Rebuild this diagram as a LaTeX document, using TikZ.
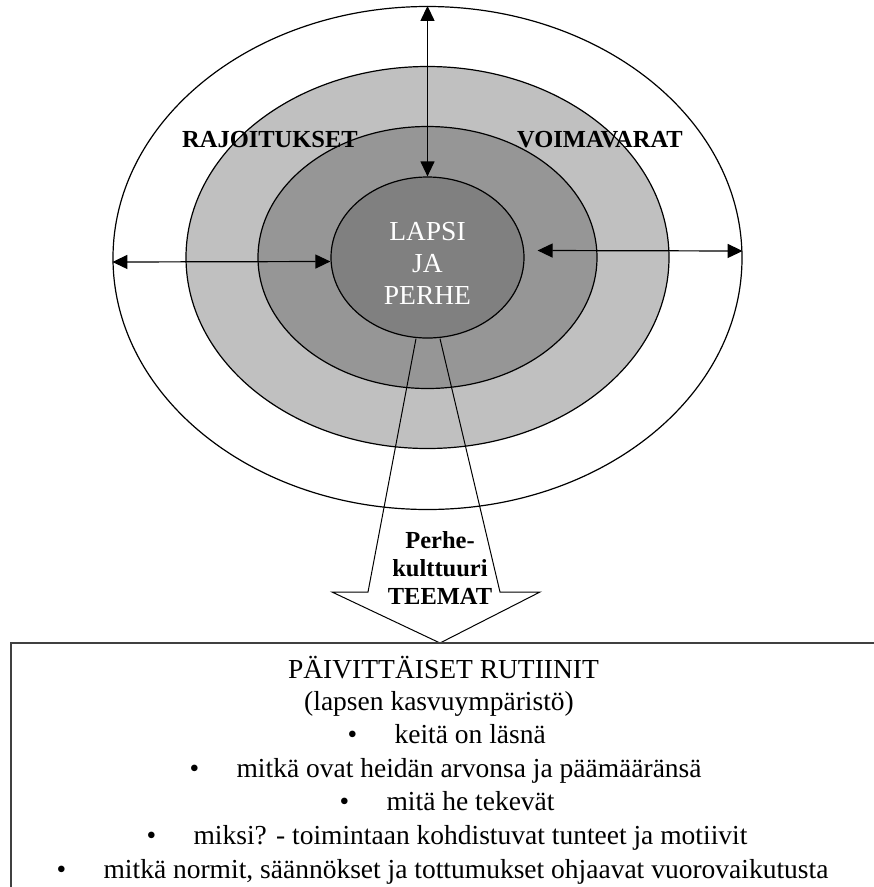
\documentclass[tikz,border=0pt]{standalone}
\usepackage{fontspec}
\setmainfont{Liberation Serif}
\usepackage{xcolor}
\usepackage{tikz}
\usetikzlibrary{shapes.geometric, arrows.meta}
\definecolor{RingLight}{HTML}{C0C0C0}
\definecolor{RingMid}{HTML}{969696}
\definecolor{RingCore}{HTML}{808080}
\definecolor{BoxEdge}{HTML}{404040}

\begin{document}
\begin{tikzpicture}[x=1pt, y=-1pt, line width=1.2pt,
    zone/.style={ellipse, draw=black, inner sep=0pt},
    both/.style={{Triangle[length=15pt,width=14pt]}-{Triangle[length=15pt,width=14pt]}},
    tag/.style={font=\fontsize{24.5}{28}\selectfont\bfseries, inner sep=0pt},
    rowtext/.style={font=\fontsize{27.5}{33}\selectfont, inner sep=0pt},
    dot/.style={rowtext, anchor=base west}]
    \useasboundingbox (0,0) rectangle (874,887);
    \node[zone, fill=white, minimum width=629pt, minimum height=503pt] (outer) at (427.5,258) {};
    \node[zone, fill=RingLight, minimum width=483pt, minimum height=382pt] (light) at (427.5,257.5) {};
    \node[zone, fill=RingMid, minimum width=339pt, minimum height=262pt] (mid) at (427.5,257.5) {};
    \node[zone, fill=RingCore, minimum width=193pt, minimum height=161pt] (core) at (427.5,257.5) {};
    \node[text=white, align=center, inner sep=0pt, font=\fontsize{27.5}{32}\selectfont] (kid) at ([yshift=-6pt]core.center) {LAPSI\\JA\\PERHE};
    \node[tag, anchor=base] (limits) at (270,147) {RAJOITUKSET};
    \node[tag, anchor=base] (assets) at (600,147) {VOIMAVARAT};
    % arrows between the rings
    \draw[both] (outer.north) -- (core.north);
    \draw[both] ([yshift=-4pt]outer.west) -- ([yshift=-4pt]core.west);
    \draw[both] ([shift={(13pt,7pt)}]core.east) -- ([yshift=7pt]outer.east);
    % big outlined arrow down to the box
    \coordinate (tip) at (440,643);
    \draw[line width=1pt] ([xshift=-11.5pt]core.south) -- (368,592) -- (332,592) -- (tip)
        -- (540,592) -- (500,592) -- ([xshift=12.5pt]core.south);
    \node[tag, align=center] (theme) at (440,568) {Perhe-\\kulttuuri\\TEEMAT};
    \draw[BoxEdge, line width=1.5pt] (880,643) -- (11,643) -- (11,895);
    \node[rowtext, anchor=base] (title) at (443.5,678) {PÄIVITTÄISET RUTIINIT};
    \node[rowtext, anchor=base] (sub) at (439,710) {(lapsen kasvuympäristö)};
    \foreach \bx/\by/\txt [count=\i] in {347/743/{keitä on läsnä},
        189/777/{mitkä ovat heidän arvonsa ja päämääränsä},
        339/810/{mitä he tekevät},
        146/844/{miksi? - toimintaan kohdistuvat tunteet ja motiivit},
        56/878/{mitkä normit, säännökset ja tottumukset ohjaavat vuorovaikutusta}}
      \node[dot] (row\i) at (\bx,\by) {\makebox[47pt][l]{\textbullet}\txt};
\end{tikzpicture}
\end{document}
